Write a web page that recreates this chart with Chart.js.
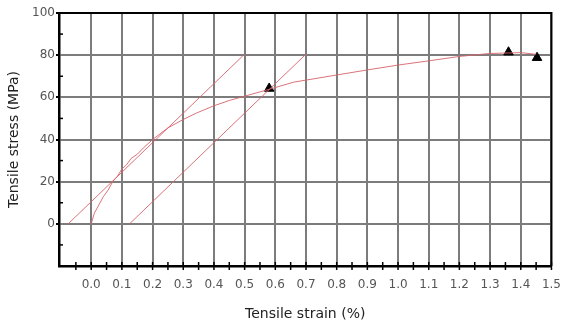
<!DOCTYPE html>
<html>
<head>
<meta charset="utf-8">
<script src="https://cdn.jsdelivr.net/npm/chart.js@4"></script>
<style>
  html, body { margin: 0; padding: 0; background: #fff; }
  #wrap { width: 573px; height: 325px; }
</style>
</head>
<body>
<div id="wrap"><canvas id="myChart" width="573" height="325"></canvas></div>
<script>
// tensile curve
var strain = [0.0, 0.01, 0.025, 0.04, 0.055, 0.07, 0.085, 0.1, 0.115, 0.13, 0.15, 0.17, 0.2, 0.25, 0.3, 0.344, 0.4, 0.45, 0.494, 0.58, 0.66, 0.8, 0.9, 1.0, 1.1, 1.2, 1.3, 1.4, 1.45];
var stress = [0, 5, 9, 13, 16, 20, 22.5, 26, 28, 31, 33, 36, 40, 45.5, 49.5, 52.6, 56, 58.5, 60.3, 63.8, 67.2, 70.6, 73, 75.3, 77.3, 79.4, 80.8, 81.2, 80.4];

// offset construction lines
var offset1X = [-0.075, 0.5];
var offset1Y = [0, 80.5];
var offset2X = [0.125, 0.7];
var offset2Y = [0, 80.5];

// triangle markers
var markX = [0.58, 1.36, 1.453];
var markY = [64.2, 81.4, 78.8];

var xTicks = [0.0, 0.1, 0.2, 0.3, 0.4, 0.5, 0.6, 0.7, 0.8, 0.9, 1.0, 1.1, 1.2, 1.3, 1.4, 1.5];
var yTicks = [0, 20, 40, 60, 80, 100];
var xMinor = [-0.05, 0.05, 0.15, 0.25, 0.35, 0.45, 0.55, 0.65, 0.75, 0.85, 0.95, 1.05, 1.15, 1.25, 1.35, 1.45];
var yMinor = [-10, 10, 30, 50, 70, 90];

function pts(xs, ys) {
  return xs.map(function (v, i) { return {x: v, y: ys[i]}; });
}

var curveColor = 'rgba(214, 100, 108, 0.9)';

var frame = {
  id: 'frame',
  afterDraw: function (chart) {
    var ctx = chart.ctx, a = chart.chartArea;
    var x = chart.scales.x, y = chart.scales.y;
    ctx.save();
    ctx.strokeStyle = '#000';
    ctx.lineWidth = 2;
    ctx.beginPath();
    ctx.moveTo(a.left, a.top);
    ctx.lineTo(a.right, a.top);
    ctx.lineTo(a.right, a.bottom);
    ctx.stroke();
    // ticks along the x axis, crossing it
    ctx.lineWidth = 1.5;
    xTicks.concat(xMinor).forEach(function (v) {
      var px = x.getPixelForValue(v);
      ctx.beginPath();
      ctx.moveTo(px, a.bottom - 4);
      ctx.lineTo(px, a.bottom + 4);
      ctx.stroke();
    });
    // minor ticks on y, inside
    yMinor.forEach(function (v) {
      var py = y.getPixelForValue(v);
      ctx.beginPath();
      ctx.moveTo(a.left, py);
      ctx.lineTo(a.left + 4, py);
      ctx.stroke();
    });
    ctx.restore();
  }
};

var ctx = document.getElementById('myChart').getContext('2d');
var myChart = new Chart(ctx, {
  type: 'scatter',
  data: {
    datasets: [{
        data: pts(strain, stress),
        showLine: true,
        borderColor: curveColor,
        borderWidth: 1,
        pointRadius: 0,
        tension: 0
      }, {
        data: pts(offset1X, offset1Y),
        showLine: true,
        borderColor: curveColor,
        borderWidth: 1,
        pointRadius: 0
      }, {
        data: pts(offset2X, offset2Y),
        showLine: true,
        borderColor: curveColor,
        borderWidth: 1,
        pointRadius: 0
      }, {
        data: pts(markX, markY),
        pointStyle: 'triangle',
        pointRadius: 5.5,
        backgroundColor: '#000',
        borderColor: '#000',
        borderWidth: 1
      }
    ]
  },
  options: {
    responsive: false,
    animation: false,
    layout: { padding: { left: 0, right: 10, top: 13, bottom: 0 } },
    plugins: {
      legend: { display: false },
      tooltip: { enabled: false }
    },
    scales: {
      x: {
        type: 'linear',
        min: -0.105,
        max: 1.5,
        afterBuildTicks: function (s) { s.ticks = xTicks.map(function (v) { return {value: v}; }); },
        afterFit: function (s) { s.height = 59; },
        ticks: {
          autoSkip: false,
          maxRotation: 0,
          padding: 12,
          color: '#555',
          font: { family: 'DejaVu Sans', size: 12 },
          callback: function (v) { return Number(v).toFixed(1); }
        },
        grid: { color: '#7c7c7c', lineWidth: 2, drawTicks: false },
        border: { color: '#000', width: 2.5 },
        title: {
          display: true,
          text: 'Tensile strain (%)',
          color: '#222',
          font: { family: 'DejaVu Sans', size: 14 },
          padding: { top: 0, bottom: 2 }
        }
      },
      y: {
        min: -20,
        max: 100,
        afterBuildTicks: function (s) { s.ticks = yTicks.map(function (v) { return {value: v}; }); },
        afterFit: function (s) { s.width = 59; },
        ticks: {
          padding: 1,
          color: '#555',
          font: { family: 'DejaVu Sans', size: 12 }
        },
        grid: { color: '#7c7c7c', lineWidth: 2, tickLength: 3, tickColor: '#000' },
        border: { color: '#000', width: 2.5 },
        title: {
          display: true,
          text: 'Tensile stress (MPa)',
          color: '#222',
          font: { family: 'DejaVu Sans', size: 14 },
          padding: { top: 6, bottom: 0 }
        }
      }
    }
  },
  plugins: [frame]
});
</script>
</body>
</html>
